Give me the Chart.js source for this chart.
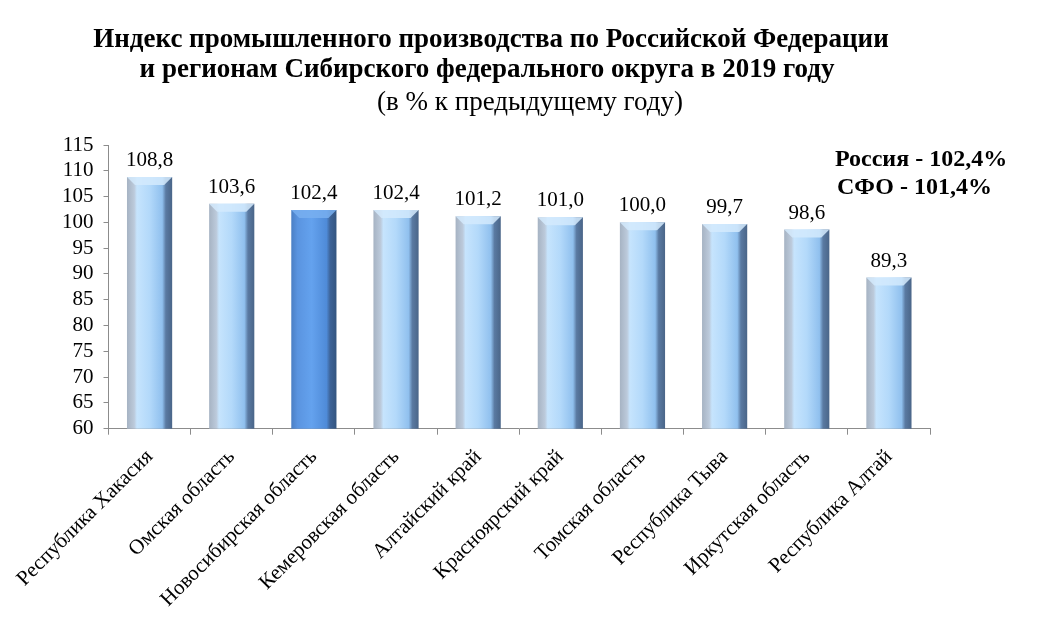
<!DOCTYPE html>
<html lang="ru">
<head>
<meta charset="utf-8">
<title>Индекс промышленного производства</title>
<script src="https://cdn.jsdelivr.net/npm/chart.js@4.4.1/dist/chart.umd.min.js"></script>
<style>
  html, body { margin: 0; padding: 0; background: #fff; }
  #wrap { width: 1049px; height: 630px; }
</style>
</head>
<body>
<div id="wrap"><canvas id="chart" width="1049" height="630"></canvas></div>
<script>
// данные
const regions = ['Республика Хакасия', 'Омская область', 'Новосибирская область', 'Кемеровская область',
  'Алтайский край', 'Красноярский край', 'Томская область', 'Республика Тыва', 'Иркутская область', 'Республика Алтай']
const values = [108.8, 103.6, 102.4, 102.4, 101.2, 101.0, 100.0, 99.7, 98.6, 89.3]
const highlight = [false, false, true, false, false, false, false, false, false, false]
const yTicks = [60, 65, 70, 75, 80, 85, 90, 95, 100, 105, 110, 115]
const titleLines = ['Индекс промышленного производства по Российской Федерации',
  'и регионам Сибирского федерального округа в 2019 году']
const subtitle = '(в % к предыдущему году)'
const notes = ['Россия - 102,4%', 'СФО - 101,4%']

const serif = '"Liberation Serif", "Times New Roman", serif'
const fmt = v => v.toFixed(1).replace('.', ',')

// градиент столбика (эффект цилиндра)
function barFill(ctx) {
  const chart = ctx.chart
  const xs = chart.scales.x
  if (!chart.chartArea || !xs) return '#a9d3f7'
  const cx = xs.getPixelForValue(ctx.dataIndex)
  const w = xs.width / regions.length * 0.55
  const g = chart.ctx.createLinearGradient(cx - w / 2, 0, cx + w / 2, 0)
  if (highlight[ctx.dataIndex]) {
    g.addColorStop(0, '#4b7fc4')
    g.addColorStop(0.14, '#5a94e0')
    g.addColorStop(0.45, '#64a2ee')
    g.addColorStop(0.78, '#4f8bd8')
    g.addColorStop(0.86, '#3d6397')
    g.addColorStop(1, '#34557f')
  } else {
    g.addColorStop(0, '#a6b3c3')
    g.addColorStop(0.16, '#bccadb')
    g.addColorStop(0.22, '#c6e4fd')
    g.addColorStop(0.5, '#b3d9fa')
    g.addColorStop(0.78, '#90c0ee')
    g.addColorStop(0.86, '#5a7aa2')
    g.addColorStop(1, '#4a6588')
  }
  return g
}

// фаски сверху и снизу столбиков
const bevelPlugin = {
  id: 'bevel',
  afterDatasetsDraw(chart) {
    const c = chart.ctx
    chart.getDatasetMeta(0).data.forEach((bar, i) => {
      const l = bar.x - bar.width / 2, r = bar.x + bar.width / 2
      const t = bar.y, b = bar.base, d = 8
      c.save()
      c.fillStyle = highlight[i] ? 'rgba(120,175,240,0.85)' : 'rgba(212,234,253,0.85)'
      c.beginPath()
      c.moveTo(l, t); c.lineTo(r, t); c.lineTo(r - d, t + d); c.lineTo(l + d, t + d); c.closePath()
      c.fill()
      c.fillStyle = highlight[i] ? 'rgba(40,75,125,0.85)' : 'rgba(85,110,145,0.85)'
      c.beginPath()
      c.moveTo(l, b); c.lineTo(r, b); c.lineTo(r - d, b - d - 3); c.lineTo(l + d, b - d - 3); c.closePath()
      c.fill()
      c.restore()
    })
  }
}

// подписи значений над столбиками
const valueLabels = {
  id: 'valueLabels',
  afterDatasetsDraw(chart) {
    const c = chart.ctx
    c.save()
    c.font = '21px ' + serif
    c.fillStyle = '#000'
    c.textAlign = 'center'
    c.textBaseline = 'alphabetic'
    chart.getDatasetMeta(0).data.forEach((bar, i) => {
      c.fillText(fmt(values[i]), bar.x, bar.y - 11)
    })
    c.restore()
  }
}

// заголовок и примечание
const headings = {
  id: 'headings',
  afterDraw(chart) {
    const c = chart.ctx
    c.save()
    c.fillStyle = '#000'
    c.textAlign = 'center'
    c.font = 'bold 27px ' + serif
    c.fillText(titleLines[0], 491, 47)
    c.fillText(titleLines[1], 487, 77)
    c.font = '27px ' + serif
    c.fillText(subtitle, 530, 110)
    c.textAlign = 'left'
    c.font = 'bold 24px ' + serif
    c.fillText(notes[0], 835, 166)
    c.fillText(notes[1], 837, 194)
    c.restore()
  }
}

new Chart(document.getElementById('chart'), {
  type: 'bar',
  data: {
    labels: regions,
    datasets: [{
      data: values,
      backgroundColor: barFill,
      borderWidth: 0,
      categoryPercentage: 1,
      barPercentage: 0.55
    }]
  },
  options: {
    responsive: false,
    animation: false,
    layout: { padding: { top: 145, left: 52, right: 119, bottom: 8 } },
    plugins: {
      legend: { display: false },
      tooltip: { enabled: false }
    },
    scales: {
      y: {
        min: 60,
        max: 115,
        afterBuildTicks: axis => { axis.ticks = yTicks.map(v => ({ value: v })) },
        border: { display: true, color: '#8c8c8c', width: 1 },
        grid: { drawOnChartArea: false, color: '#8c8c8c', tickLength: 5 },
        ticks: { color: '#000', font: { family: serif, size: 21 }, padding: 10, autoSkip: false }
      },
      x: {
        border: { display: true, color: '#8c8c8c', width: 1 },
        grid: { drawOnChartArea: false, offset: true, color: '#8c8c8c', tickLength: 6 },
        ticks: { color: '#000', font: { family: serif, size: 21 }, minRotation: 45, maxRotation: 45, padding: 10 }
      }
    }
  },
  plugins: [bevelPlugin, valueLabels, headings]
})
</script>
</body>
</html>
